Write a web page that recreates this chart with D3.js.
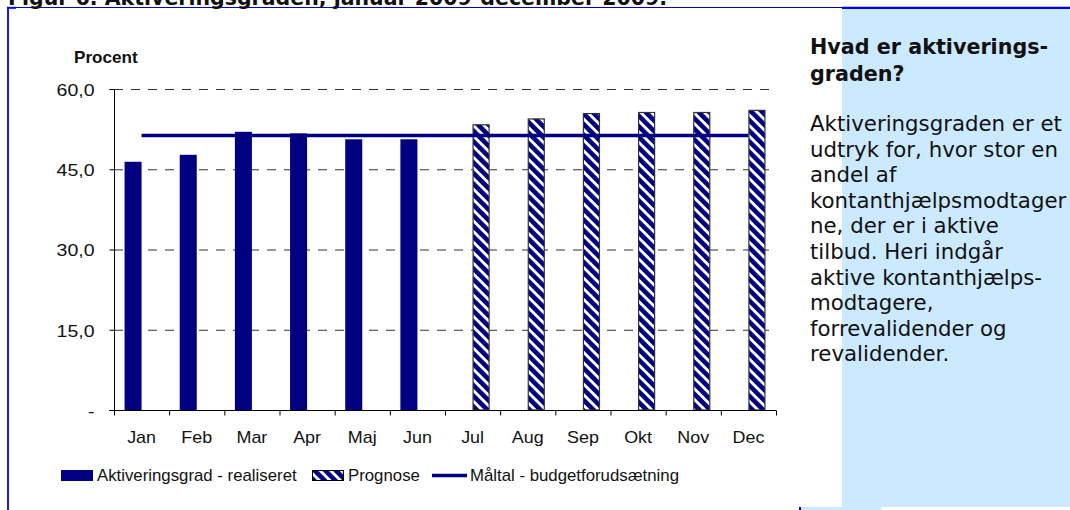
<!DOCTYPE html>
<html>
<head>
<meta charset="utf-8">
<script src="https://cdn.jsdelivr.net/npm/d3@7"></script>
<style>
  html, body { margin: 0; padding: 0; background: #fff; }
  svg { display: block; }
</style>
</head>
<body>
<script>
// Aktiveringsgrad 2009 – realiseret, prognose og måltal
const months = ['Jan', 'Feb', 'Mar', 'Apr', 'Maj', 'Jun', 'Jul', 'Aug', 'Sep', 'Okt', 'Nov', 'Dec']
const realiseret = [46.4, 47.7, 52.0, 51.7, 50.6, 50.6, null, null, null, null, null, null]
const prognose = [null, null, null, null, null, null, 53.4, 54.5, 55.5, 55.7, 55.7, 56.1]
const maltal = [51.3, 51.3, 51.3, 51.3, 51.3, 51.3, 51.3, 51.3, 51.3, 51.3, 51.3, 51.3]
const yTicks = [0, 15, 30, 45, 60]
const legendLabels = ['Aktiveringsgrad - realiseret', 'Prognose', 'Måltal - budgetforudsætning']

const titleText = 'Figur 6. Aktiveringsgraden, januar 2009-december 2009.'
const boxHeading = ['Hvad er aktiverings-', 'graden?']
const boxBody = [
  'Aktiveringsgraden er et',
  'udtryk for, hvor stor en',
  'andel af',
  'kontanthjælpsmodtager',
  'ne, der er i aktive',
  'tilbud. Heri indgår',
  'aktive kontanthjælps-',
  'modtagere,',
  'forrevalidender og',
  'revalidender.'
]

const width = 1070
const height = 510
const navy = '#000080'
const chartFont = '"Liberation Sans", Arial, sans-serif'
const boxFont = '"DejaVu Sans", Verdana, sans-serif'

// text in the chart is a bit wider than plain Arial
const stretch = (sel, tx, ty, sx) => sel
  .attr('x', 0).attr('y', 0)
  .attr('transform', `translate(${tx},${ty}) scale(${sx},1)`)

const svg = d3.select('body').append('svg')
  .attr('width', width).attr('height', height)

// Striped pattern for prognose bars
const defs = svg.append('defs')
const pat = defs.append('pattern')
  .attr('id', 'stripes')
  .attr('patternUnits', 'userSpaceOnUse')
  .attr('width', 7.5).attr('height', 7.5)
  .attr('patternTransform', 'rotate(-45)')
pat.append('rect').attr('width', 7.5).attr('height', 7.5).attr('fill', '#fff')
pat.append('rect').attr('width', 4.6).attr('height', 7.5).attr('fill', navy)

// Frame and side box
svg.append('rect')
  .attr('x', 842).attr('y', 8).attr('width', width - 842).attr('height', 499)
  .attr('fill', '#cceaff')
svg.append('rect')
  .attr('x', 801).attr('y', 507).attr('width', 80).attr('height', 3)
  .attr('fill', '#cceaff')
svg.append('rect')
  .attr('x', 799).attr('y', 507).attr('width', 2).attr('height', 3)
  .attr('fill', '#0000ff')
svg.append('line')
  .attr('x1', 7).attr('x2', 842).attr('y1', 7.5).attr('y2', 7.5)
  .attr('stroke', '#0000c0').attr('stroke-width', 1)
svg.append('line')
  .attr('x1', 842).attr('x2', width).attr('y1', 7.8).attr('y2', 7.8)
  .attr('stroke', '#0000ff').attr('stroke-width', 2.2)
svg.append('line')
  .attr('x1', 7).attr('x2', 16).attr('y1', 7.8).attr('y2', 7.8)
  .attr('stroke', '#0000ff').attr('stroke-width', 2)
svg.append('line')
  .attr('x1', 8).attr('x2', 8).attr('y1', 7).attr('y2', height)
  .attr('stroke', '#0000ff').attr('stroke-width', 1.8)

// Title (cut off at the top edge)
svg.append('text')
  .attr('x', 8).attr('y', 5)
  .attr('font-family', boxFont).attr('font-weight', 'bold')
  .attr('font-size', '20.5px').attr('fill', '#111')
  .text(titleText)

// Scales
const x = d3.scaleBand().domain(months).range([114, 776])
const xs = d3.scaleBand().domain(['real', 'prog']).range([0, x.bandwidth()]).paddingOuter(0.62)
const y = d3.scaleLinear().domain([0, 60]).range([410, 89])

const g = svg.append('g').attr('font-family', chartFont)

// Gridlines
g.selectAll('line.grid').data(yTicks.filter(d => d > 0)).join('line')
  .attr('class', 'grid')
  .attr('x1', x.range()[0]).attr('x2', x.range()[1])
  .attr('y1', d => y(d) + 0.5).attr('y2', d => y(d) + 0.5)
  .attr('stroke', '#333').attr('stroke-width', 1).attr('stroke-dasharray', '9,8')

// Realized bars
g.selectAll('rect.real').data(months.map((m, i) => ({ m, v: realiseret[i] })).filter(d => d.v != null))
  .join('rect')
  .attr('class', 'real')
  .attr('x', d => x(d.m) + xs('real'))
  .attr('y', d => y(d.v))
  .attr('width', xs.bandwidth())
  .attr('height', d => y(0) - y(d.v))
  .attr('fill', navy)

// Prognose bars
g.selectAll('rect.prog').data(months.map((m, i) => ({ m, v: prognose[i] })).filter(d => d.v != null))
  .join('rect')
  .attr('class', 'prog')
  .attr('x', d => x(d.m) + xs('prog') + 0.5)
  .attr('y', d => y(d.v) + 0.5)
  .attr('width', xs.bandwidth() - 1)
  .attr('height', d => y(0) - y(d.v) - 0.5)
  .attr('fill', 'url(#stripes)')
  .attr('stroke', '#333').attr('stroke-width', 1.2)

// Måltal line
const line = d3.line()
  .x((d, i) => x(months[i]) + x.bandwidth() / 2)
  .y(d => y(d))
g.append('path')
  .datum(maltal)
  .attr('d', line)
  .attr('fill', 'none').attr('stroke', navy).attr('stroke-width', 3.5)

// Y axis
const yAxis = d3.axisLeft(y)
  .tickValues(yTicks)
  .tickSize(5)
  .tickFormat(d => d === 0 ? '-' : d3.format('.1f')(d).replace('.', ','))
const ya = g.append('g').attr('transform', `translate(${x.range()[0] + 0.5},0)`).call(yAxis)
ya.select('.domain').attr('stroke', '#000').attr('d', `M-5,${y(60) + 0.5}H0V${y(0) + 0.5}`)
ya.selectAll('.tick line').attr('stroke', '#000')
ya.selectAll('.tick text')
  .attr('font-family', chartFont).attr('font-size', '16px').attr('fill', '#111')
  .attr('dy', '0.4em')
  .call(stretch, -20, 0, 1.22)

// X axis
const xAxis = d3.axisBottom(x).tickSize(0).tickPadding(0)
const xa = g.append('g').attr('transform', `translate(0,${y(0) + 0.5})`).call(xAxis)
xa.select('.domain').attr('stroke', '#000').attr('d', `M${x.range()[0] - 5},0H${x.range()[1]}`)
xa.selectAll('.tick text')
  .attr('font-family', chartFont).attr('font-size', '16px').attr('fill', '#111')
  .attr('dy', 0)
  .call(stretch, 0, 32, 1.12)
// category separators
xa.selectAll('line.sep').data(months.concat(['end'])).join('line')
  .attr('class', 'sep')
  .attr('x1', (d, i) => x.range()[0] + i * x.step() + 0.5)
  .attr('x2', (d, i) => x.range()[0] + i * x.step() + 0.5)
  .attr('y1', 0).attr('y2', 5)
  .attr('stroke', '#000')

// Y title
g.append('text')
  .attr('font-size', '16px').attr('font-weight', 'bold').attr('fill', '#111')
  .text('Procent')
  .call(stretch, 74, 63, 1.07)

// Legend
const lg = g.append('g').attr('font-size', '16px').attr('fill', '#111')
lg.append('rect').attr('x', 61).attr('y', 470).attr('width', 32).attr('height', 11).attr('fill', navy)
lg.append('text').text(legendLabels[0]).call(stretch, 97, 481, 1.05)
lg.append('rect').attr('x', 312.5).attr('y', 470.5).attr('width', 31).attr('height', 10)
  .attr('fill', 'url(#stripes)').attr('stroke', '#000')
lg.append('text').text(legendLabels[1]).call(stretch, 348, 481, 1.05)
lg.append('line').attr('x1', 432).attr('x2', 467).attr('y1', 475.5).attr('y2', 475.5)
  .attr('stroke', navy).attr('stroke-width', 3.5)
lg.append('text').text(legendLabels[2]).call(stretch, 470, 481, 1.05)

// Side box text
const bt = svg.append('g').attr('font-family', boxFont).attr('fill', '#111')
bt.selectAll('text.h').data(boxHeading).join('text')
  .attr('class', 'h')
  .attr('x', 810).attr('y', (d, i) => 54 + i * 26.5)
  .attr('font-size', '20.7px').attr('font-weight', 'bold')
  .text(d => d)
bt.selectAll('text.b').data(boxBody).join('text')
  .attr('class', 'b')
  .attr('x', 810).attr('y', (d, i) => 131 + i * 25.6)
  .attr('font-size', '21.3px')
  .text(d => d)
</script>
</body>
</html>
